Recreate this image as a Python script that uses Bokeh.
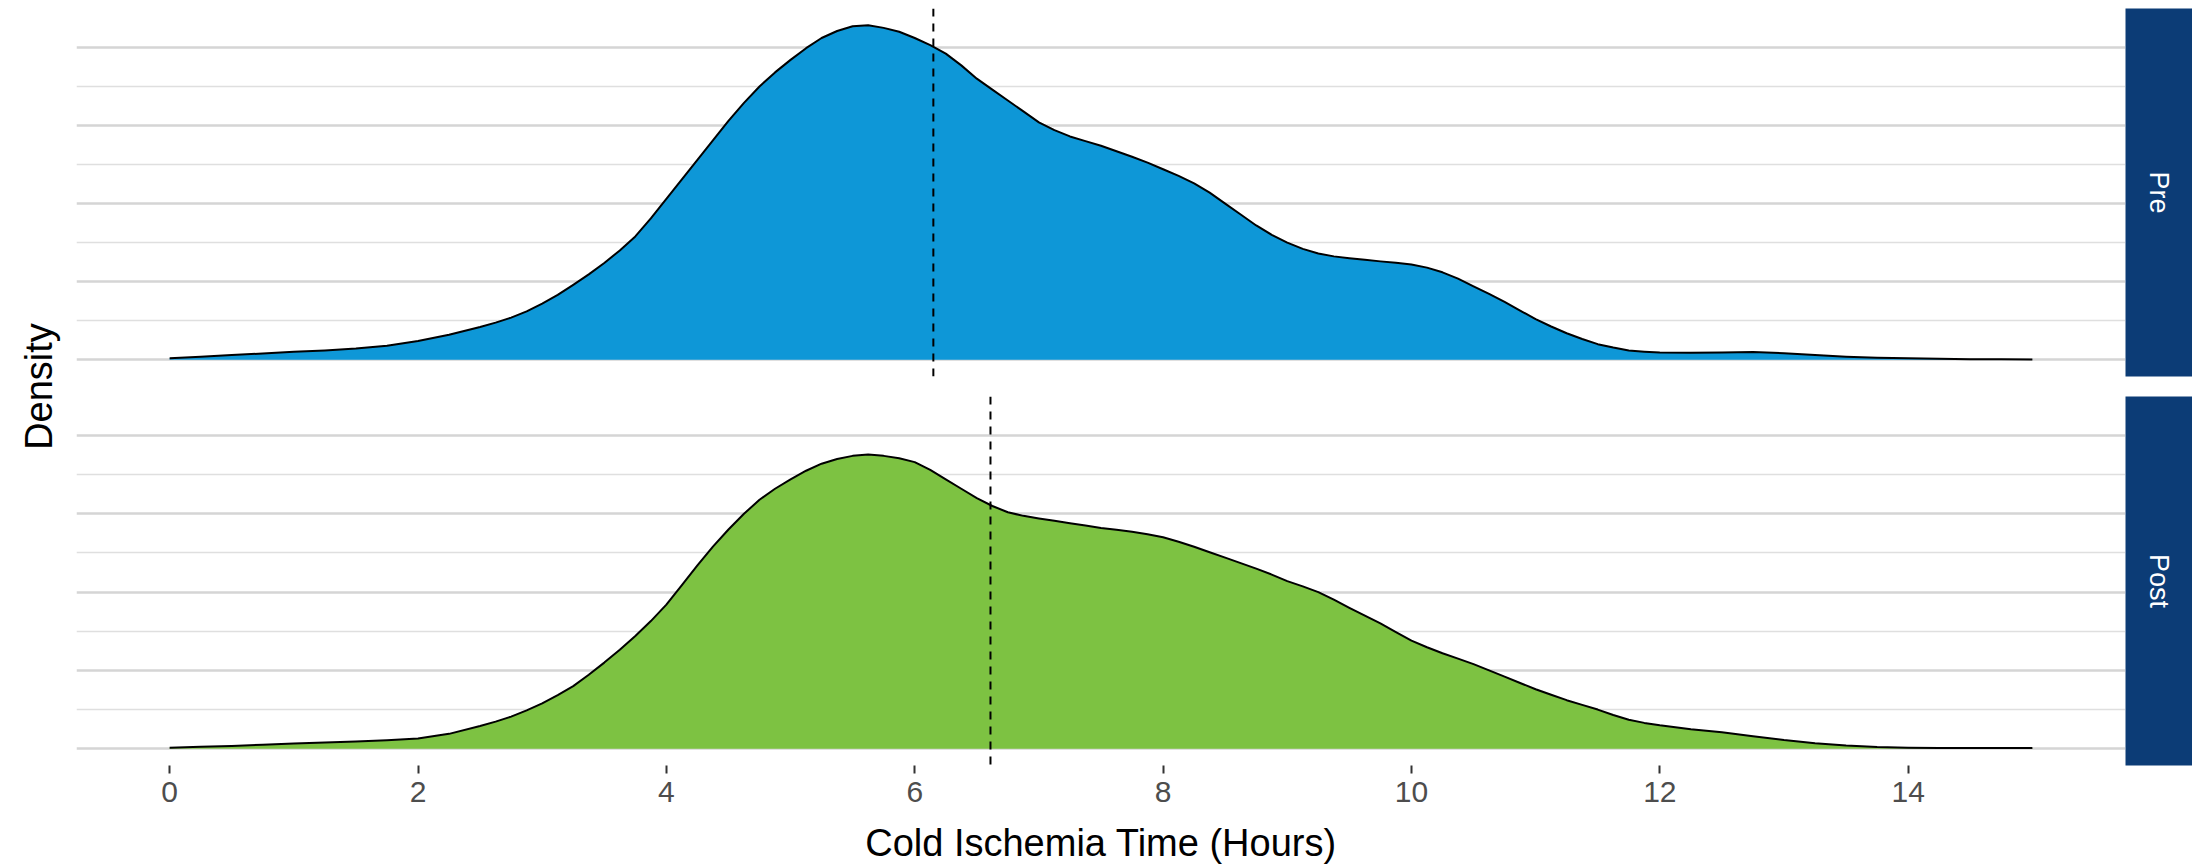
import math
from bokeh.plotting import figure
from bokeh.models import Range1d, FixedTicker, Grid, Span
from bokeh.layouts import row, column
from bokeh.core.properties import value
from bokeh.embed import file_html
from bokeh.resources import INLINE

# ---------------- data ----------------
hours = [
    0.0, 0.25, 0.5, 0.75,
    1.0, 1.25, 1.5, 1.75,
    2.0, 2.25, 2.5, 2.625, 2.75, 2.875,
    3.0, 3.125, 3.25, 3.375, 3.5, 3.625, 3.75, 3.875,
    4.0, 4.125, 4.25, 4.375, 4.5, 4.625, 4.75, 4.875,
    5.0, 5.125, 5.25, 5.375, 5.5, 5.625, 5.75, 5.875,
    6.0, 6.125, 6.25, 6.375, 6.5, 6.625, 6.75, 6.875,
    7.0, 7.125, 7.25, 7.375, 7.5, 7.625, 7.75, 7.875,
    8.0, 8.125, 8.25, 8.375, 8.5, 8.625, 8.75, 8.875,
    9.0, 9.125, 9.25, 9.375, 9.5, 9.625, 9.75, 9.875,
    10.0, 10.125, 10.25, 10.375, 10.5, 10.625, 10.75, 10.875,
    11.0, 11.125, 11.25, 11.375, 11.5, 11.625, 11.75, 11.875,
    12.0, 12.25, 12.5, 12.75,
    13.0, 13.25, 13.5, 13.75,
    14.0, 14.25, 14.5, 14.75,
    15.0]

density_pre = [
    0.0010, 0.0020, 0.0030, 0.0040,
    0.0052, 0.0060, 0.0072, 0.0090,
    0.0120, 0.0160, 0.0210, 0.0238, 0.0270, 0.0310,
    0.0360, 0.0415, 0.0480, 0.0547, 0.0620, 0.0700, 0.0790, 0.0905,
    0.1030, 0.1155, 0.1280, 0.1405, 0.1530, 0.1645, 0.1750, 0.1840,
    0.1920, 0.1995, 0.2060, 0.2105, 0.2135, 0.2142, 0.2125, 0.2100,
    0.2060, 0.2015, 0.1960, 0.1885, 0.1800, 0.1730, 0.1660, 0.1590,
    0.1520, 0.1470, 0.1430, 0.1400, 0.1370, 0.1335, 0.1300, 0.1262,
    0.1220, 0.1177, 0.1130, 0.1070, 0.1000, 0.0930, 0.0860, 0.0800,
    0.0750, 0.0710, 0.0680, 0.0662, 0.0650, 0.0640, 0.0630, 0.0621,
    0.0610, 0.0590, 0.0560, 0.0520, 0.0470, 0.0422, 0.0370, 0.0315,
    0.0260, 0.0213, 0.0170, 0.0133, 0.0100, 0.0078, 0.0060, 0.0052,
    0.0046, 0.0045, 0.0047, 0.0049,
    0.0042, 0.0030, 0.0020, 0.0013,
    0.0009, 0.0006, 0.0004, 0.0003,
    0.0002]

density_post = [
    0.0006, 0.0012, 0.0018, 0.0026,
    0.0034, 0.0040, 0.0046, 0.0054,
    0.0066, 0.0095, 0.0145, 0.0173, 0.0205, 0.0245,
    0.0290, 0.0343, 0.0400, 0.0472, 0.0550, 0.0632, 0.0720, 0.0815,
    0.0920, 0.1045, 0.1170, 0.1290, 0.1400, 0.1500, 0.1590, 0.1660,
    0.1720, 0.1775, 0.1820, 0.1850, 0.1870, 0.1878, 0.1870, 0.1855,
    0.1830, 0.1780, 0.1720, 0.1660, 0.1600, 0.1550, 0.1510, 0.1487,
    0.1470, 0.1455, 0.1440, 0.1425, 0.1410, 0.1398, 0.1385, 0.1370,
    0.1350, 0.1322, 0.1290, 0.1255, 0.1220, 0.1185, 0.1150, 0.1112,
    0.1070, 0.1037, 0.1000, 0.0952, 0.0900, 0.0850, 0.0800, 0.0745,
    0.0690, 0.0648, 0.0610, 0.0575, 0.0540, 0.0500, 0.0460, 0.0420,
    0.0380, 0.0345, 0.0310, 0.0280, 0.0250, 0.0215, 0.0185, 0.0165,
    0.0150, 0.0125, 0.0105, 0.0080,
    0.0055, 0.0035, 0.0020, 0.0011,
    0.0007, 0.0005, 0.0004, 0.0004,
    0.0004]

groups = ["Pre", "Post"]
group_means = [6.15, 6.61]
x_ticks = [0, 2, 4, 6, 8, 10, 12, 14]
y_major = [0.0, 0.05, 0.10, 0.15, 0.20]
y_minor = [0.025, 0.075, 0.125, 0.175]

# ---------------- styling ----------------
FONT = "Liberation Sans"
FILL = {"Pre": "#0E97D7", "Post": "#7DC242"}
STRIP = "#0C3C76"

x_lo, x_hi = min(hours), max(hours)
x_pad = 0.05 * (x_hi - x_lo)
xr = Range1d(x_lo - x_pad, x_hi + x_pad)
ymax = max(max(density_pre), max(density_post))
y_lo, y_hi = -0.05 * ymax, 1.05 * ymax

LEFT_W = 76
PANEL_W = 2049
STRIP_W = 67
TOP = 8
GAP = 20
FRAME_A = 368
FRAME_B = 369
AXIS_B = 101


def panel(name, dens, mean, frame_h, top, bottom, with_axis):
    p = figure(width=PANEL_W, height=top + frame_h + bottom, x_range=xr,
               y_range=Range1d(y_lo, y_hi),
               x_axis_location="below" if with_axis else None,
               y_axis_location=None, toolbar_location=None,
               output_backend="svg", min_border_left=0, min_border_right=0,
               min_border_top=top, min_border_bottom=bottom,
               background_fill_color="white", border_fill_color="white")
    p.outline_line_color = None
    p.grid.visible = False
    g = Grid(dimension=1, ticker=FixedTicker(ticks=y_major, minor_ticks=y_minor),
             grid_line_color="#d5d5d5", grid_line_width=2.4,
             minor_grid_line_color="#dfdfdf", minor_grid_line_width=1.5)
    p.add_layout(g, "center")
    if with_axis:
        ax = p.xaxis[0]
        ax.ticker = FixedTicker(ticks=x_ticks, minor_ticks=[])
        ax.axis_line_color = None
        ax.major_tick_in = 0
        ax.major_tick_out = 8
        ax.major_tick_line_width = 2
        ax.major_tick_line_color = "#333333"
        ax.minor_tick_line_color = None
        ax.major_label_text_font = FONT
        ax.major_label_text_font_size = "30px"
        ax.major_label_text_color = "#4D4D4D"
        ax.major_label_standoff = 8
        ax.axis_label = "Cold Ischemia Time (Hours)"
        ax.axis_label_text_font = FONT
        ax.axis_label_text_font_size = "38px"
        ax.axis_label_text_font_style = "normal"
        ax.axis_label_text_color = "black"
        ax.axis_label_standoff = 17
    zeros = [0.0] * len(hours)
    p.varea(x=hours, y1=zeros, y2=dens, fill_color=FILL[name], fill_alpha=1.0)
    p.line(x=hours, y=dens, line_color="black", line_width=2, line_join="round")
    p.add_layout(Span(location=mean, dimension="height", line_color="black",
                      line_width=2, line_dash="8 7"))
    return p


def strip(label, frame_h, top, bottom):
    s = figure(width=STRIP_W, height=top + frame_h + bottom,
               x_range=Range1d(0, STRIP_W), y_range=Range1d(0, frame_h),
               x_axis_location=None, y_axis_location=None,
               toolbar_location=None, output_backend="svg",
               min_border_left=0, min_border_right=0, min_border_top=top,
               min_border_bottom=bottom, background_fill_color=STRIP,
               border_fill_color="white")
    s.outline_line_color = None
    s.grid.visible = False
    s.text(x=[STRIP_W / 2], y=[frame_h / 2], text=[label], angle=-math.pi / 2,
           text_align="center", text_baseline="middle",
           text_font=value(FONT), text_font_size="27px", text_color="white")
    return s


pA = panel("Pre", density_pre, group_means[0], FRAME_A, TOP, GAP, False)
sA = strip(groups[0], FRAME_A, TOP, GAP)
pB = panel("Post", density_post, group_means[1], FRAME_B, 0, AXIS_B, True)
sB = strip(groups[1], FRAME_B, 0, AXIS_B)

total_h = TOP + FRAME_A + GAP + FRAME_B + AXIS_B
left = figure(width=LEFT_W, height=total_h, x_range=Range1d(0, LEFT_W),
              y_range=Range1d(total_h, 0), x_axis_location=None,
              y_axis_location=None, toolbar_location=None,
              output_backend="svg", min_border=0,
              background_fill_color="white", border_fill_color="white")
left.outline_line_color = None
left.grid.visible = False
left.text(x=[38], y=[386], text=["Density"], angle=math.pi / 2,
          text_align="center", text_baseline="middle",
          text_font=value(FONT), text_font_size="38px", text_color="black")

layout = row(left, column(row(pA, sA), row(pB, sB)))

open("out.html", "w").write(file_html(layout, INLINE))
